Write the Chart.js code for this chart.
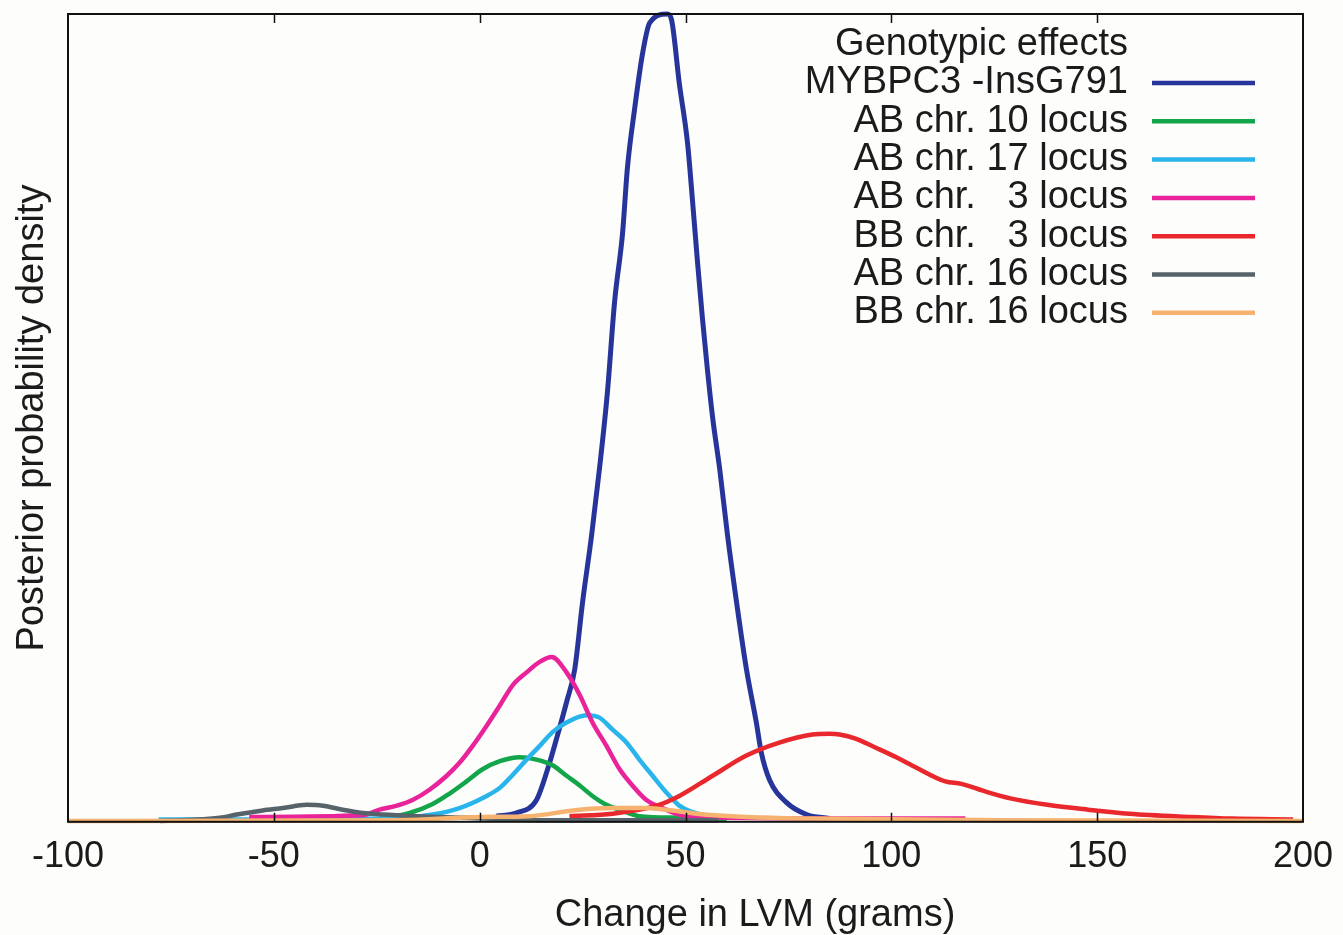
<!DOCTYPE html>
<html>
<head>
<meta charset="utf-8">
<script src="https://cdn.jsdelivr.net/npm/chart.js@4/dist/chart.umd.min.js"></script>
<style>
  html, body { margin: 0; padding: 0; background: #fdfdfc; }
  #wrap { width: 1343px; height: 935px; }
</style>
</head>
<body>
<div id="wrap"><canvas id="lvmChart" width="1343" height="935"></canvas></div>
<script>
// Posterior densities (x = change in LVM, grams; y = relative density)
const seriesLabels = [
    'MYBPC3 -InsG791',
    'AB chr. 10 locus',
    'AB chr. 17 locus',
    'AB chr.   3 locus',
    'BB chr.   3 locus',
    'AB chr. 16 locus',
    'BB chr. 16 locus'
];
const seriesColors = ['#27359b', '#12a54a', '#29b5ec', '#e9239a', '#e8282c', '#56636a', '#f5b36f'];

const mybpc3X = [4, 9, 13.8, 16.5, 18.9, 21.1, 23.1, 25, 27.2, 29.1, 31, 32.8, 34.7, 35.9, 37.6, 39.6, 41.3, 45.6,
    46.6, 48.5, 50.5, 51.7, 52.9, 54.1, 55.3, 56.6, 58.3, 60.2, 62.4, 64.8, 67.2, 68.4, 70.4, 74.5, 79.4, 85];
const mybpc3Y = [0.007, 0.011, 0.027, 0.065, 0.107, 0.148, 0.189, 0.272, 0.355, 0.437, 0.53, 0.645, 0.728, 0.81, 0.881, 0.952, 0.989, 1.0,
    0.993, 0.914, 0.84, 0.769, 0.694, 0.624, 0.561, 0.5, 0.437, 0.355, 0.272, 0.189, 0.123, 0.086, 0.052, 0.024, 0.009, 0.004];

const chr10X = [-24, -17, -11.4, -7.3, -3.2, 0.7, 4.9, 9.7, 13.8, 17.7, 21.1, 24.3, 27.4, 30.8, 34, 38.8, 48.5, 60];
const chr10Y = [0.004, 0.011, 0.022, 0.035, 0.05, 0.065, 0.075, 0.08, 0.077, 0.07, 0.057, 0.045, 0.032, 0.021, 0.015, 0.007, 0.005, 0.003];

const chr17X = [-78, -44, -18.7, -11.4, -4.9, 1.7, 4.9, 8, 11.4, 14.6, 17.7, 21.1, 26, 29.1, 32.3, 35.7, 38.8, 42, 45.4, 48.5, 51.7, 58.3];
const chr17Y = [0.003, 0.003, 0.005, 0.009, 0.017, 0.032, 0.042, 0.058, 0.077, 0.094, 0.111, 0.123, 0.132, 0.129, 0.114, 0.098, 0.077, 0.057, 0.036, 0.02, 0.012, 0.005];

const chr3abX = [-56, -28.5, -24.3, -20.1, -16.3, -12.1, -8, -4.9, -1.7, 1.7, 4.9, 8, 11.4, 14.6, 17.5, 21.1, 24.3, 27.4, 30.8,
    34, 37.1, 40.5, 43, 51.7, 100, 118];
const chr3abY = [0.006, 0.008, 0.015, 0.02, 0.027, 0.04, 0.057, 0.073, 0.094, 0.119, 0.144, 0.169, 0.185, 0.198, 0.204, 0.185, 0.157, 0.123, 0.094,
    0.065, 0.045, 0.027, 0.02, 0.006, 0.004, 0.004];

const chr3bbX = [21.8, 32.3, 43, 48.5, 56.6, 64.8, 72.8, 80.8, 85, 87.4, 91.3, 96.1, 101.2, 106.1, 113.1, 117, 123.1, 128.9,
    137.9, 147.8, 157.8, 172.8, 182.8, 197.6];
const chr3bbY = [0.007, 0.01, 0.02, 0.032, 0.057, 0.082, 0.098, 0.108, 0.109, 0.108, 0.103, 0.092, 0.08, 0.067, 0.05, 0.047, 0.037, 0.029,
    0.021, 0.015, 0.01, 0.006, 0.004, 0.003];

const chr16abX = [-77.7, -63.1, -59, -52.7, -47.8, -42, -38.1, -33.3, -28.4, -23.5, -15.3, -3.2, 17, 58];
const chr16abY = [0.001, 0.005, 0.009, 0.014, 0.017, 0.021, 0.02, 0.015, 0.011, 0.009, 0.007, 0.005, 0.002, 0.002];

const chr16bbX = [-100, -19.4, 0, 12.1, 22.6, 32.3, 40.5, 46.8, 52.7, 64.8, 80.8, 126, 199.8];
const chr16bbY = [0.001, 0.002, 0.006, 0.007, 0.014, 0.017, 0.017, 0.014, 0.01, 0.006, 0.004, 0.002, 0.001];

const seriesX = [mybpc3X, chr10X, chr17X, chr3abX, chr3bbX, chr16abX, chr16bbX];
const seriesY = [mybpc3Y, chr10Y, chr17Y, chr3abY, chr3bbY, chr16abY, chr16bbY];

const xTicks = [-100, -50, 0, 50, 100, 150, 200];
const xTitle = 'Change in LVM (grams)';
const yTitle = 'Posterior probability density';
const legendTitle = 'Genotypic effects';

const FONT = '"Liberation Sans", Arial, sans-serif';
const TEXT = '#1b1b1b';

// frame, inward tick marks, axis titles and the key (gnuplot style)
const gnuplotDecor = {
    id: 'gnuplotDecor',
    afterDatasetsDraw(chart) {
        const { ctx, chartArea: a, scales } = chart;
        ctx.save();
        ctx.strokeStyle = '#111';
        ctx.lineWidth = 2;
        ctx.strokeRect(a.left, a.top, a.right - a.left, a.bottom - a.top);
        ctx.lineWidth = 1.5;
        xTicks.slice(1, -1).forEach(v => {
            const px = Math.round(scales.x.getPixelForValue(v)) + 0.5;
            ctx.beginPath();
            ctx.moveTo(px, a.top); ctx.lineTo(px, a.top + 9);
            ctx.moveTo(px, a.bottom); ctx.lineTo(px, a.bottom - 9);
            ctx.stroke();
        });

        ctx.fillStyle = TEXT;
        ctx.font = '38px ' + FONT;
        ctx.textAlign = 'center';
        ctx.textBaseline = 'alphabetic';
        ctx.fillText(xTitle, 755, 926);
        ctx.save();
        ctx.translate(43, 418);
        ctx.rotate(-Math.PI / 2);
        ctx.fillText(yTitle, 0, 0);
        ctx.restore();

        // key
        const textRight = a.right - 175;
        const lineL = a.right - 151, lineR = a.right - 48;
        ctx.font = '38px ' + FONT;
        ctx.textAlign = 'right';
        ctx.textBaseline = 'middle';
        ctx.fillText(legendTitle, textRight, 45);
        seriesLabels.forEach((lab, i) => {
            const y = 83 + i * 38.3;
            ctx.fillStyle = TEXT;
            ctx.fillText(lab, textRight, y);
            ctx.strokeStyle = seriesColors[i];
            ctx.lineWidth = 4.5;
            ctx.beginPath();
            ctx.moveTo(lineL, y); ctx.lineTo(lineR, y);
            ctx.stroke();
        });
        ctx.restore();
    }
};

const datasets = seriesLabels.map((lab, i) => ({
    label: lab,
    data: seriesX[i].map((x, j) => ({ x: x, y: seriesY[i][j] })),
    borderColor: seriesColors[i],
    borderWidth: i === 0 ? 5 : 4.5,
    pointRadius: 0,
    cubicInterpolationMode: 'monotone',
    fill: false,
    clip: false,
    order: seriesLabels.length - i
}));

new Chart(document.getElementById('lvmChart').getContext('2d'), {
    type: 'line',
    data: { datasets: datasets },
    options: {
        responsive: false,
        animation: false,
        events: [],
        layout: { padding: { left: 68, top: 14, right: 40, bottom: 42 } },
        plugins: { legend: { display: false }, tooltip: { enabled: false } },
        scales: {
            x: {
                type: 'linear',
                min: -100,
                max: 200,
                afterBuildTicks: scale => { scale.ticks = xTicks.map(v => ({ value: v })); },
                // let the "200" label run past the frame like the original
                afterFit: scale => { scale.paddingLeft = 0; scale.paddingRight = 0; },
                grid: { display: false, drawTicks: false },
                border: { display: false },
                ticks: { color: TEXT, font: { size: 36, family: FONT }, padding: 14, maxRotation: 0, autoSkip: false }
            },
            y: {
                display: false,
                min: 0,
                max: 1.0
            }
        }
    },
    plugins: [gnuplotDecor]
});
</script>
</body>
</html>
